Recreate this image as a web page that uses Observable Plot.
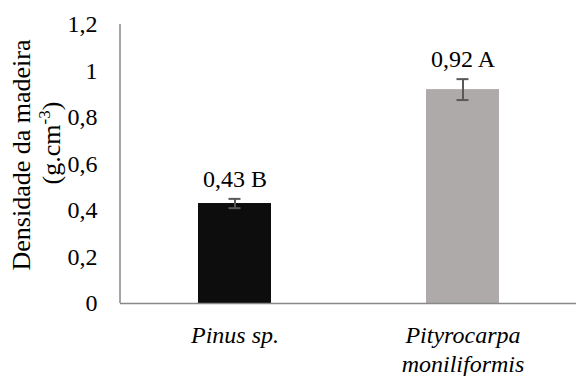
<!DOCTYPE html>
<html>
<head>
<meta charset="utf-8">
<script src="https://cdn.jsdelivr.net/npm/d3@7"></script>
<script src="https://cdn.jsdelivr.net/npm/@observablehq/plot@0.6"></script>
<style>
  html, body { margin: 0; padding: 0; background: #fff; }
</style>
</head>
<body>
<div id="chart"></div>
<script>
const categories = ["Pinus sp.", "Pityrocarpa moniliformis"];
const categoryLines = ["Pinus sp.", "Pityrocarpa\nmoniliformis"];
const means = [0.43, 0.92];
const errors = [0.02, 0.045];
const letters = ["B", "A"];
const barColors = ["#0d0d0d", "#aeaaaa"];
const yTicks = [0, 0.2, 0.4, 0.6, 0.8, 1, 1.2];
const yTitle1 = "Densidade da madeira";
const yTitle2a = "(g.cm";
const yTitle2sup = "-3";
const yTitle2b = ")";

const data = categories.map((c, i) => ({
  cat: c, mean: means[i], err: errors[i], letter: letters[i], color: barColors[i]
}));
const fmt = v => String(v).replace(".", ",");
const FONT = "Liberation Serif";

const plot = Plot.plot({
  width: 576,
  height: 376,
  marginLeft: 120,
  marginRight: 0,
  marginTop: 24,
  marginBottom: 73,
  style: {fontFamily: FONT, background: "#fff"},
  x: {domain: categories, paddingInner: 0.68, paddingOuter: 0.34, label: null},
  y: {domain: [0, 1.2], label: null},
  color: {type: "identity"},
  marks: [
    Plot.barY(data, {x: "cat", y: "mean", fill: "color"}),
    Plot.ruleY([0], {stroke: "#898989", strokeWidth: 1.5}),
    Plot.ruleX(data, {x: "cat", y1: d => d.mean - d.err, y2: d => d.mean + d.err, stroke: "#595959", strokeWidth: 2}),
    Plot.tickY(data, {x: "cat", y: d => d.mean - d.err, stroke: "#595959", strokeWidth: 2, insetLeft: 30.5, insetRight: 30.5}),
    Plot.tickY(data, {x: "cat", y: d => d.mean + d.err, stroke: "#595959", strokeWidth: 2, insetLeft: 30.5, insetRight: 30.5}),
    Plot.text(data, {x: "cat", y: d => d.mean + d.err, text: d => fmt(d.mean) + " " + d.letter, dy: -20, fontSize: 24, fill: "#000", fontFamily: FONT}),
    Plot.axisY({ticks: yTicks, tickSize: 0, tickPadding: 23, tickFormat: fmt, fontSize: 24, fill: "#000", fontFamily: FONT, label: null}),
    Plot.axisX({tickSize: 0, tickPadding: 20, tickFormat: c => categoryLines[categories.indexOf(c)], fontSize: 24, fontStyle: "italic", fontFamily: FONT, lineHeight: 1.17, fill: "#000", label: null})
  ]
});

document.getElementById("chart").appendChild(plot);

// left axis line drawn from the plot's scales
const xs = plot.scale("x"), ys = plot.scale("y");
const svg = d3.select(plot);
const xLeft = Math.min(...xs.range);
svg.append("line")
  .attr("x1", xLeft).attr("x2", xLeft)
  .attr("y1", ys.apply(1.2)).attr("y2", ys.apply(0))
  .attr("stroke", "#898989").attr("stroke-width", 1.5);

// y-axis title (two lines, rotated)
svg.append("text")
  .attr("transform", "translate(30,155) rotate(-90)")
  .attr("text-anchor", "middle")
  .attr("font-size", 26).attr("font-family", FONT).attr("fill", "#000")
  .text(yTitle1);
const t2 = svg.append("text")
  .attr("transform", "translate(60,143) rotate(-90)")
  .attr("text-anchor", "middle")
  .attr("font-size", 26).attr("font-family", FONT).attr("fill", "#000");
t2.append("tspan").text(yTitle2a);
t2.append("tspan").attr("dy", -10).attr("font-size", 17).text(yTitle2sup);
t2.append("tspan").attr("dy", 10).text(yTitle2b);
</script>
</body>
</html>
